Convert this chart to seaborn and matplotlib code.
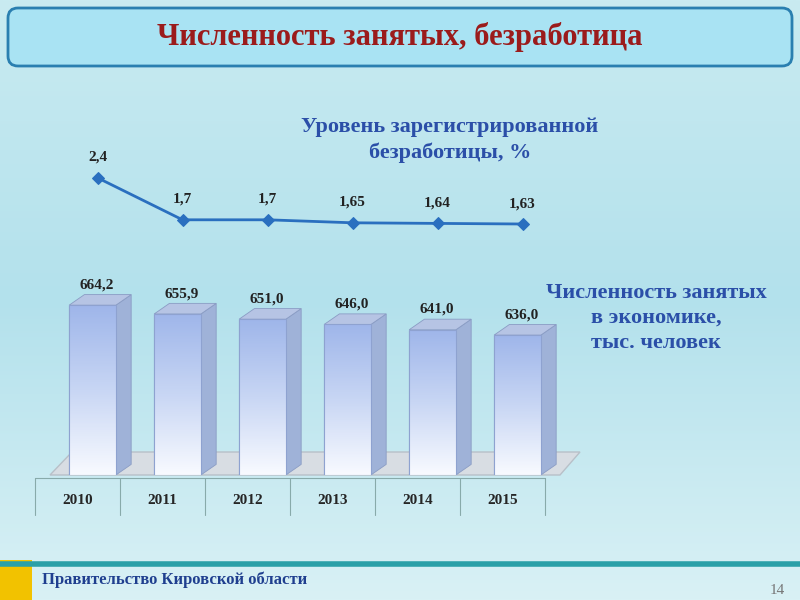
import numpy as np
import matplotlib.pyplot as plt
import seaborn as sns
from matplotlib.patches import FancyBboxPatch, Polygon, Rectangle

sns.set_style("white")
plt.rcParams['font.family'] = ['Liberation Serif', 'DejaVu Serif']

years = ["2010", "2011", "2012", "2013", "2014", "2015"]
employed = [664.2, 655.9, 651.0, 646.0, 641.0, 636.0]
employed_labels = ["664,2", "655,9", "651,0", "646,0", "641,0", "636,0"]
unemployment = [2.4, 1.7, 1.7, 1.65, 1.64, 1.63]
unemployment_labels = ["2,4", "1,7", "1,7", "1,65", "1,64", "1,63"]

W, H = 800, 600
fig = plt.figure(figsize=(8, 6), dpi=100)

# background gradient
bg = fig.add_axes([0, 0, 1, 1])
grad = np.linspace(0, 1, 256).reshape(-1, 1)
bg.imshow(grad, cmap=sns.blend_palette(["#d9f1f5", "#b3e1ec", "#c9ebf1"], as_cmap=True),
          aspect="auto", extent=[0, W, 0, H], origin="upper")
bg.set_xlim(0, W)
bg.set_ylim(H, 0)
bg.axis("off")

# title banner
bg.add_patch(FancyBboxPatch((8, 8), 784, 58, boxstyle="round,pad=0,rounding_size=10",
                            fc="#a9e3f3", ec="#2a7fb0", lw=2))
bg.text(400, 37, "Численность занятых, безработица", ha="center", va="center",
        fontsize=22, fontweight="bold", color="#9b1b1b")

# floor of 3D plot
bg.add_patch(Polygon([[50, 475], [560, 475], [580, 452], [72, 452]],
                     fc="#d8dde3", ec="#b8c0c8"))
# year separators
for xp in [35, 120, 205, 290, 375, 460, 545]:
    bg.plot([xp, xp], [478, 515], color="#8aa", lw=0.8)
bg.plot([35, 545], [478, 478], color="#8aa", lw=0.8)

# bars
axb = fig.add_axes([50 / W, 1 - 475 / H, 510 / W, 200 / H])
sns.barplot(x=years, y=employed, ax=axb, color="#c9d6f0", width=0.55,
            edgecolor="#8ea2d0", linewidth=0.8)
axb.set_ylim(504, 504 + 200 / 1.06)
axb.axis("off")
for p, lab in zip(axb.patches, employed_labels):
    x0, w, h = p.get_x(), p.get_width(), p.get_height()
    dx, dy = 0.18, 10
    axb.add_patch(Polygon([[x0 + w, 504], [x0 + w + dx, 504 + dy], [x0 + w + dx, h + dy],
                           [x0 + w, h]], fc="#9fb2d8", ec="#8a9cc4", lw=0.6))
    axb.add_patch(Polygon([[x0, h], [x0 + dx, h + dy], [x0 + w + dx, h + dy], [x0 + w, h]],
                          fc="#b6c4e4", ec="#8a9cc4", lw=0.6))
    img = axb.imshow(np.linspace(0, 1, 100).reshape(-1, 1),
                     cmap=sns.blend_palette(["#f8faff", "#c8d6f4", "#9fb6ea"], as_cmap=True),
                     extent=[x0, x0 + w, 504, h], aspect="auto", origin="lower", zorder=3)
    img.set_clip_path(p)
    axb.add_patch(Rectangle((x0, 504), w, h - 504, fc="none", ec="#8ea2d0", lw=0.8, zorder=4))
    axb.text(x0 + w / 2 + 0.05, h + dy + 3, lab, ha="center", va="bottom",
             fontsize=11, fontweight="bold", color="#222")
axb.set_xlim(-0.5, 5.5)

for i, y in enumerate(years):
    bg.text(77.5 + 85 * i, 500, y, ha="center", va="center", fontsize=11, fontweight="bold")

# line
axl = fig.add_axes([55 / W, 1 - 240 / H, 510 / W, 90 / H])
sns.lineplot(x=np.arange(6), y=unemployment, ax=axl, color="#2a6fbf", lw=2,
             marker="D", markersize=6, markeredgecolor="#2a6fbf")
axl.set_xlim(-0.5, 5.5)
axl.set_ylim(1.63 - 16 / 60, 1.63 - 16 / 60 + 90 / 60)
axl.axis("off")
for i, (v, lab) in enumerate(zip(unemployment, unemployment_labels)):
    axl.annotate(lab, (i, v), xytext=(0, 10), textcoords="offset points",
                 ha="center", va="bottom", fontsize=11, fontweight="bold", color="#222")

bg.text(450, 140, "Уровень зарегистрированной\nбезработицы, %", ha="center", va="center",
        fontsize=16, fontweight="bold", color="#2b4fa8", linespacing=1.3)
bg.text(656, 318, "Численность занятых\nв экономике,\nтыс. человек", ha="center",
        va="center", fontsize=16, fontweight="bold", color="#2b4fa8", linespacing=1.3)

# footer
bg.plot([0, 800], [564, 564], color="#2aa0a8", lw=4)
bg.add_patch(Rectangle((0, 560), 32, 40, fc="#f2c200", ec="none"))
bg.text(42, 580, "Правительство Кировской области", ha="left", va="center",
        fontsize=12, fontweight="bold", color="#1f3f8f")
bg.text(785, 590, "14", ha="right", va="center", fontsize=11, color="#777")

fig.savefig("out.png", dpi=100)
